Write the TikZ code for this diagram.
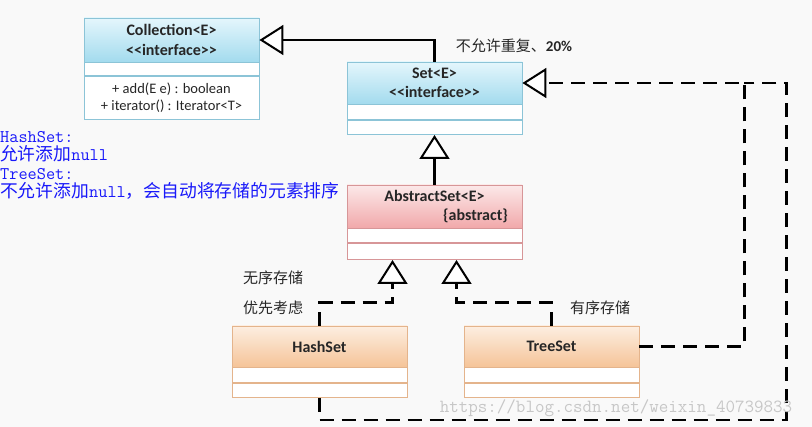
\documentclass[tikz,border=0pt]{standalone}
\usepackage{fontspec}
\setmainfont{Carlito}
\newfontfamily\cjk{Noto Sans CJK SC}
\usetikzlibrary{positioning, calc}
\usetikzlibrary{arrows.meta}
\definecolor{bgc}{RGB}{249,249,249}
\definecolor{B0}{RGB}{228,246,252}
\definecolor{B1}{RGB}{163,219,238}
\definecolor{Bd}{RGB}{140,196,215}
\definecolor{R0}{RGB}{252,233,233}
\definecolor{R1}{RGB}{241,168,170}
\definecolor{Rd}{RGB}{215,150,152}
\definecolor{O0}{RGB}{253,238,225}
\definecolor{O1}{RGB}{245,196,152}
\definecolor{Od}{RGB}{228,180,140}
\definecolor{txtblue}{RGB}{25,25,250}

\tikzset{
    hdr/.style={draw, line width=0.8pt, minimum width=175pt, inner sep=0pt, align=center,
        font=\fontsize{16}{19.5}\selectfont\bfseries, text=black!85},
    cmp/.style={draw, line width=0.8pt, fill=white, minimum width=175pt, inner sep=0pt},
    gen/.style={line width=2.6pt, -{Triangle[width=30pt, length=24pt, fill=white, line width=2pt]}},
    real/.style={gen, dash pattern=on 14pt off 8pt},
    note/.style={font=\cjk\fontsize{15}{15}\selectfont, text=black!85},
}

\begin{document}
\begin{tikzpicture}[x=1pt, y=-1pt]
    %% canvas
    \fill[bgc] (0,0) rectangle (812,427);
    \useasboundingbox (0,0) rectangle (812,427);
    %% Collection<E>
    \node[hdr, top color=B0, bottom color=B1, draw=Bd, minimum height=44pt] (coll) at (171.5,40)
        {Collection<E>\\<{}<interface>{}>};
    \node[cmp, draw=Bd, minimum height=13pt, below=0pt of coll] (collA) {};
    \node[cmp, draw=Bd, minimum height=43pt, below=0pt of collA, align=center,
        font=\fontsize{14.5}{17}\selectfont, text=black!85] (collB)
        {+ add(E e) : boolean\\+ iterator() : Iterator<T>};
    %% Set<E>
    \node[hdr, top color=B0, bottom color=B1, draw=Bd, minimum height=42pt] (set) at (434.5,83)
        {Set<E>\\<{}<interface>{}>};
    \node[cmp, draw=Bd, minimum height=15pt, below=0pt of set] (setA) {};
    \node[cmp, draw=Bd, minimum height=14pt, below=0pt of setA] (setB) {};
    %% AbstractSet<E>
    \node[hdr, top color=R0, bottom color=R1, draw=Rd, minimum height=43pt] (abs) at (434.5,206.5)
        {AbstractSet<E>\\\hspace*{82pt}\{abstract\}};
    \node[cmp, draw=Rd, minimum height=14pt, below=0pt of abs] (absA) {};
    \node[cmp, draw=Rd, minimum height=16pt, below=0pt of absA] (absB) {};
    %% HashSet / TreeSet
    \node[hdr, top color=O0, bottom color=O1, draw=Od, minimum height=41pt] (hash) at (319.5,346.5) {HashSet};
    \node[cmp, draw=Od, minimum height=15pt, below=0pt of hash] (hashA) {};
    \node[cmp, draw=Od, minimum height=14pt, below=0pt of hashA] (hashB) {};
    \node[hdr, top color=O0, bottom color=O1, draw=Od, minimum height=41pt] (tree) at (551.5,346.5) {TreeSet};
    \node[cmp, draw=Od, minimum height=15pt, below=0pt of tree] (treeA) {};
    \node[cmp, draw=Od, minimum height=14pt, below=0pt of treeA] (treeB) {};
    %% generalisations
    \draw[gen] (set.north) |- (coll.east);
    \draw[gen] (abs.north) -- (setB.south);
    \draw[real] (hash.north) -- ++(0,-23) -| ([xshift=-42pt]absB.south);
    \draw[real] (tree.north) -- ++(0,-23) -| ([xshift=22pt]absB.south);
    %% realisations back to Set
    \coordinate (jn) at ($(set.east)+(222,0)$);
    \draw[real, -] (hashB.south) -- ++(0,22) -| ($(set.east)+(264,0)$) -- (jn);
    \draw[real] (tree.east) -| (jn) -- (set.east);
    %% notes
    \node[note] (lblSet) at (514,46) {不允许重复、{\rmfamily\bfseries 20\%}};
    \node[note] (lblUn) at (273,278) {无序存储};
    \node[note] (lblPri) at (273,308) {优先考虑};
    \node[note] (lblOrd) at (600,308) {有序存储};
    \node[anchor=north west, inner sep=0pt, align=left, text=txtblue,
        font=\fontsize{17.8}{18.4}\selectfont] (memo) at (0,131)
        {{\ttfamily HashSet:}\\{\cjk 允许添加}{\ttfamily null}\\{\ttfamily TreeSet:}\\
         {\cjk 不允许添加}{\ttfamily null}{\cjk ，会自动将存储的元素排序}};
    %% watermark
    \node[text=black!22, font=\ttfamily\fontsize{18.5}{18.5}\selectfont] (mark) at (616,408)
        {https://blog.csdn.net/weixin\_40739833};
\end{tikzpicture}
\end{document}
